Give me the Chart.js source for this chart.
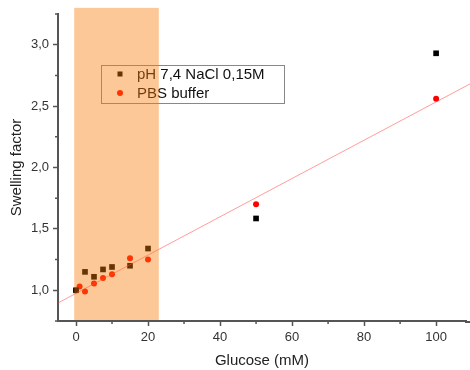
<!DOCTYPE html>
<html>
<head>
<meta charset="utf-8">
<script src="https://cdn.jsdelivr.net/npm/chart.js@4.4.1/dist/chart.umd.min.js"></script>
<style>
  html, body { margin: 0; padding: 0; background: #fff; }
  #wrap { width: 470px; height: 370px; }
</style>
</head>
<body>
<div id="wrap"><canvas id="graficoSwelling"></canvas></div>
<script>
// dados
const glucoseNaCl = [0, 2.5, 5, 7.5, 10, 15, 20, 50, 100];
const swellNaCl   = [1.0, 1.15, 1.11, 1.17, 1.19, 1.20, 1.34, 1.585, 2.93];
const glucosePBS  = [0, 1, 2.5, 5, 7.5, 10, 15, 20, 50, 100];
const swellPBS    = [1.0, 1.03, 0.99, 1.055, 1.10, 1.13, 1.26, 1.25, 1.70, 2.56];
const fitX = [-5, 110];
const fitY = [0.897, 2.69];
const seriesLabels = ['pH 7,4 NaCl 0,15M', 'PBS buffer'];

// eixos
const xTicks = [0, 20, 40, 60, 80, 100];
const xMinor = [10, 30, 50, 70, 90];
const yTicks = [1.0, 1.5, 2.0, 2.5, 3.0];
const yMinor = [0.75, 1.25, 1.75, 2.25, 2.75, 3.25];
const shadeX = [-0.5, 23];
const shadeTop = 3.3;

const FONTE = "Arial, 'Liberation Sans', sans-serif";

const toPts = (xs, ys) => xs.map((x, i) => ({ x: x, y: ys[i] }));

// ticks menores + legenda + faixa laranja
const extras = {
  id: 'extras',
  afterDatasetsDraw(chart) {
    const ctx = chart.ctx;
    const sx = chart.scales.x, sy = chart.scales.y;
    const area = chart.chartArea;
    ctx.save();

    // ticks menores + eixo x até a borda
    ctx.strokeStyle = '#555';
    ctx.lineWidth = 1.5;
    ctx.beginPath();
    xMinor.forEach(v => {
      const px = sx.getPixelForValue(v);
      ctx.moveTo(px, area.bottom);
      ctx.lineTo(px, area.bottom + 3);
    });
    yMinor.forEach(v => {
      const py = sy.getPixelForValue(v);
      ctx.moveTo(area.left, py);
      ctx.lineTo(area.left - 3, py);
    });
    ctx.stroke();
    ctx.lineWidth = 2;
    ctx.beginPath();
    ctx.moveTo(area.right - 1, area.bottom + 1);
    ctx.lineTo(chart.width, area.bottom + 1);
    ctx.stroke();

    // legenda
    ctx.fillStyle = '#fff';
    ctx.fillRect(101, 65, 183, 38);
    ctx.strokeStyle = '#888';
    ctx.lineWidth = 1;
    ctx.strokeRect(101.5, 65.5, 183, 38);
    ctx.fillStyle = '#000';
    ctx.fillRect(117.5, 71.5, 5, 5);
    ctx.fillStyle = '#ff0000';
    ctx.beginPath();
    ctx.arc(120, 93, 3, 0, Math.PI * 2);
    ctx.fill();
    ctx.fillStyle = '#111';
    ctx.font = '15px ' + FONTE;
    ctx.textBaseline = 'middle';
    ctx.fillText(seriesLabels[0], 137, 75);
    ctx.fillText(seriesLabels[1], 137, 94);

    // faixa
    const x0 = sx.getPixelForValue(shadeX[0]);
    const x1 = sx.getPixelForValue(shadeX[1]);
    const yT = sy.getPixelForValue(shadeTop);
    ctx.fillStyle = 'rgba(250, 125, 10, 0.42)';
    ctx.fillRect(x0, yT, x1 - x0, area.bottom - 1 - yT);
    ctx.restore();
  }
};

const ctx = document.getElementById('graficoSwelling').getContext('2d');
new Chart(ctx, {
  type: 'scatter',
  data: {
    datasets: [
      {
        label: 'fit',
        type: 'line',
        data: toPts(fitX, fitY),
        borderColor: 'rgba(255, 60, 60, 0.5)',
        borderWidth: 1,
        pointRadius: 0,
        fill: false,
        clip: false
      },
      {
        label: seriesLabels[0],
        data: toPts(glucoseNaCl, swellNaCl),
        pointStyle: 'rect',
        pointRadius: 4,
        backgroundColor: '#000',
        borderWidth: 0
      },
      {
        label: seriesLabels[1],
        data: toPts(glucosePBS, swellPBS),
        pointStyle: 'circle',
        pointRadius: 3,
        backgroundColor: '#ff0000',
        borderWidth: 0
      }
    ]
  },
  options: {
    responsive: true,
    maintainAspectRatio: false,
    animation: false,
    layout: { padding: { top: 14, right: 0, left: 0, bottom: 0 } },
    plugins: {
      legend: { display: false },
      tooltip: { enabled: false }
    },
    scales: {
      x: {
        type: 'linear',
        min: -5,
        max: 108.3,
        afterBuildTicks: s => { s.ticks = xTicks.map(v => ({ value: v })); },
        afterFit: s => { s.height = 49; },
        grid: { drawOnChartArea: false, drawTicks: true, tickLength: 5, tickColor: '#555', tickWidth: 1.5 },
        border: { color: '#555', width: 2 },
        ticks: { color: '#333', font: { size: 13, family: FONTE }, padding: 4, maxRotation: 0 },
        title: { display: true, text: 'Glucose (mM)', color: '#222', font: { size: 15, family: FONTE }, padding: { top: 0, bottom: 0 } }
      },
      y: {
        type: 'linear',
        min: 0.75,
        max: 3.25,
        afterBuildTicks: s => { s.ticks = yTicks.map(v => ({ value: v })); },
        afterFit: s => { s.width = 58; },
        grid: { drawOnChartArea: false, drawTicks: true, tickLength: 5, tickColor: '#555', tickWidth: 1.5 },
        border: { color: '#555', width: 2 },
        ticks: {
          color: '#333',
          font: { size: 13, family: FONTE },
          padding: 4,
          callback: v => v.toFixed(1).replace('.', ',')
        },
        title: { display: true, text: 'Swelling factor', color: '#222', font: { size: 15, family: FONTE }, padding: { top: 8, bottom: 0 } }
      }
    }
  },
  plugins: [extras]
});
</script>
</body>
</html>
